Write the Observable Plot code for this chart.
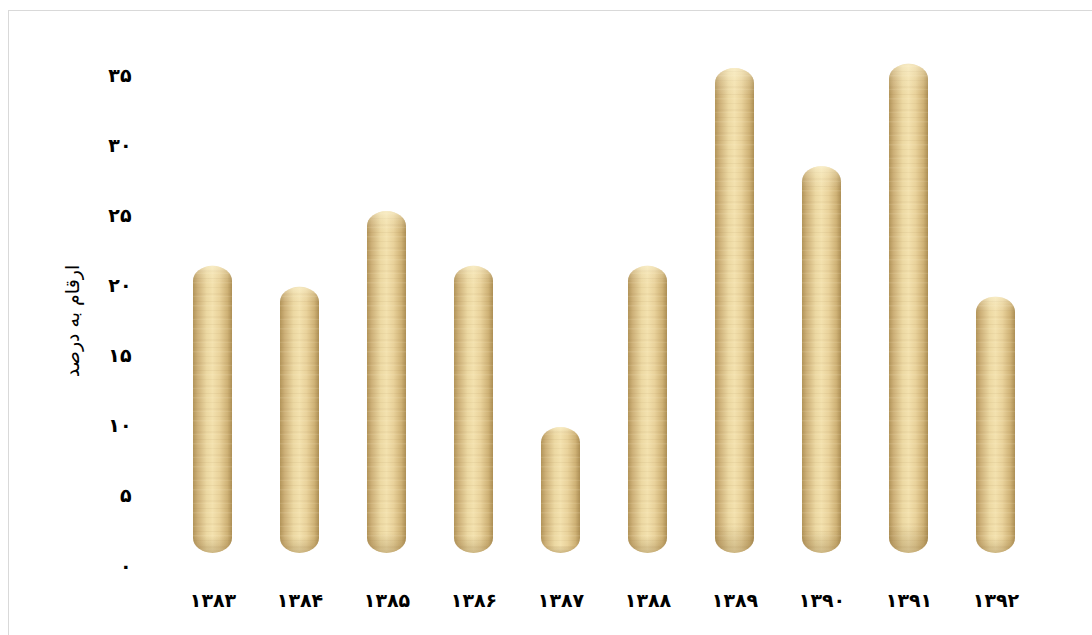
<!DOCTYPE html>
<html>
<head>
<meta charset="utf-8">
<script src="https://cdn.jsdelivr.net/npm/d3@7"></script>
<script src="https://cdn.jsdelivr.net/npm/@observablehq/plot@0.6"></script>
<style>
  html, body { margin: 0; padding: 0; background: #fff; }
  #wrap { position: relative; width: 1092px; height: 635px; overflow: hidden; }
  #border { position: absolute; left: 8px; top: 10px; width: 1100px; height: 640px;
            border: 1px solid #d9d9d9; box-sizing: border-box; pointer-events: none; z-index: 2; }
  #chart svg { display: block; }
  #chart g[aria-label="y-axis tick label"] text,
  #chart g[aria-label="x-axis tick label"] text { font-weight: bold; }
  #chart g[aria-label="y-axis label"] text { font-weight: normal; font-size: 19px; }
</style>
</head>
<body>
<div id="wrap"><div id="border"></div><div id="chart"></div></div>
<script>
// Data
const yearLabels = ["۱۳۸۳", "۱۳۸۴", "۱۳۸۵", "۱۳۸۶", "۱۳۸۷", "۱۳۸۸", "۱۳۸۹", "۱۳۹۰", "۱۳۹۱", "۱۳۹۲"];
const values = [21.4, 19.9, 25.3, 21.4, 9.9, 21.4, 35.5, 28.5, 35.8, 19.2];
const yTicks = [0, 5, 10, 15, 20, 25, 30, 35];
const yTitle = "ارقام به درصد";

const faDigits = "۰۱۲۳۴۵۶۷۸۹";
const fa = v => String(v).replace(/\d/g, d => faDigits[d]);

const data = yearLabels.map((year, i) => ({year, value: values[i]}));

const plot = Plot.plot({
  width: 1092,
  height: 635,
  marginLeft: 167,
  marginRight: 51,
  marginTop: 75,
  marginBottom: 69,
  style: {fontFamily: "'DejaVu Sans', sans-serif", fontSize: "19px", color: "#000", background: "none"},
  x: {domain: yearLabels, paddingInner: 0.555, paddingOuter: 0.2775},
  y: {domain: [0, 35]},
  marks: [
    Plot.barY(data, {x: "year", y: "value", fill: "url(#woodH)", rx: 19.5, ry: 15, insetBottom: 13}),
    Plot.barY(data, {x: "year", y: "value", fill: "url(#grain)", rx: 19.5, ry: 15, insetBottom: 13}),
    Plot.barY(data, {x: "year", y: "value", fill: "url(#shadeV)", rx: 19.5, ry: 15, insetBottom: 13}),
    Plot.axisY({ticks: yTicks, tickFormat: fa, tickSize: 0, tickPadding: 36,
      label: yTitle, labelAnchor: "center", labelOffset: 102, labelArrow: "none"}),
    Plot.axisX({tickSize: 0, tickPadding: 27, label: null})
  ]
});

// gradients for the wooden cylinder look
const svg = d3.select(plot);
const defs = svg.insert("defs", ":first-child");
const gH = defs.append("linearGradient").attr("id", "woodH")
  .attr("x1", "0").attr("y1", "0").attr("x2", "1").attr("y2", "0");
[["0%", "#b3955a"], ["12%", "#cdb078"], ["35%", "#ecd8a2"], ["50%", "#f3e1ae"],
 ["68%", "#e9d29b"], ["88%", "#cfb276"], ["100%", "#ad8f55"]]
  .forEach(([o, c]) => gH.append("stop").attr("offset", o).attr("stop-color", c));

const gV = defs.append("linearGradient").attr("id", "shadeV")
  .attr("x1", "0").attr("y1", "0").attr("x2", "0").attr("y2", "1");
[["0%", "rgba(255,250,225,0.45)", ], ["3%", "rgba(255,250,225,0.15)"], ["6%", "rgba(255,255,255,0)"],
 ["94%", "rgba(120,90,40,0)"], ["100%", "rgba(120,90,40,0.3)"]]
  .forEach(([o, c]) => gV.append("stop").attr("offset", o).attr("stop-color", c));

const pat = defs.append("pattern").attr("id", "grain")
  .attr("patternUnits", "userSpaceOnUse").attr("width", 40).attr("height", 23);
[[2, 1, "rgba(140,105,50,0.08)"], [6, 1.5, "rgba(255,245,215,0.12)"],
 [11, 1, "rgba(140,105,50,0.06)"], [17, 2, "rgba(140,105,50,0.05)"], [20, 1, "rgba(255,245,215,0.1)"]]
  .forEach(([y, h, c]) => pat.append("rect").attr("x", 0).attr("y", y).attr("width", 40).attr("height", h).attr("fill", c));

document.getElementById("chart").append(plot);
</script>
</body>
</html>
